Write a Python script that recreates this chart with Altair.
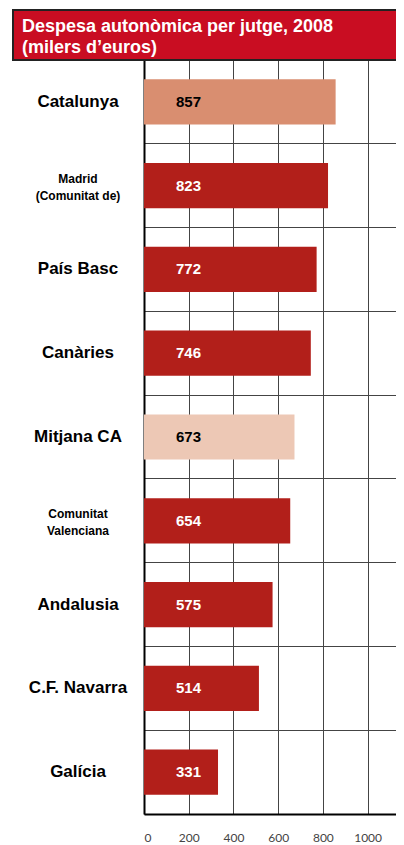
import altair as alt
import pandas as pd

categories = ["Catalunya", "Madrid (Comunitat de)", "País Basc", "Canàries", "Mitjana CA",
              "Comunitat Valenciana", "Andalusia", "C.F. Navarra", "Galícia"]
label_lines = ["Catalunya", "Madrid\n(Comunitat de)", "País Basc", "Canàries", "Mitjana CA",
               "Comunitat\nValenciana", "Andalusia", "C.F. Navarra", "Galícia"]
values = [857, 823, 772, 746, 673, 654, 575, 514, 331]
bar_kind = ["Catalunya", "altres", "altres", "altres", "mitjana", "altres", "altres", "altres", "altres"]
label_size = [17, 12, 17, 17, 17, 12, 17, 17, 17]
x_ticks = [0, 200, 400, 600, 800, 1000]
title_lines = ["Despesa autonòmica per jutge, 2008", "(milers d’euros)"]

kind_domain = ["Catalunya", "mitjana", "altres"]
kind_colors = ["#D98E70", "#EDC8B5", "#B21F1A"]
text_colors = ["#000000", "#000000", "#FFFFFF"]

df = pd.DataFrame({
    "cat": categories,
    "lab": label_lines,
    "val": values,
    "kind": bar_kind,
    "size": label_size,
})

W = 252
H = 754
XMAX = 1127

y_enc = alt.Y("cat:N", sort=categories,
              scale=alt.Scale(paddingInner=0, paddingOuter=0),
              axis=alt.Axis(labels=False, ticks=False, title=None, grid=True,
                            bandPosition=0, gridColor="#444444", gridWidth=1,
                            domainColor="#000000", domainWidth=2))
x_scale = alt.Scale(domain=[0, XMAX], nice=False, zero=True)

base = alt.Chart(df)

bars = base.mark_bar(height=alt.RelativeBandSize(0.54)).encode(
    x=alt.X("val:Q", scale=x_scale,
            axis=alt.Axis(values=x_ticks, format="d", grid=True, gridColor="#444444", gridWidth=1,
                          ticks=False, domainColor="#000000", domainWidth=2,
                          labelPadding=18, labelFontSize=12, labelColor="#444444",
                          labelFont="Lato", title=None)),
    y=y_enc,
    color=alt.Color("kind:N", scale=alt.Scale(domain=kind_domain, range=kind_colors), legend=None),
)

val_text = base.mark_text(align="left", baseline="middle", fontSize=15, fontWeight="bold",
                          font="Liberation Sans").encode(
    x=alt.value(32),
    y=alt.Y("cat:N", sort=categories),
    text=alt.Text("val:Q"),
    color=alt.Color("kind:N", scale=alt.Scale(domain=kind_domain, range=text_colors), legend=None),
)

cat_text_one = base.transform_filter("datum.size > 14").mark_text(
    align="center", baseline="middle", fontWeight="bold", font="Liberation Sans",
    color="#000000").encode(
    x=alt.value(-66),
    y=alt.Y("cat:N", sort=categories),
    text="lab:N",
    size=alt.Size("size:Q", scale=None, legend=None),
)

cat_text_two = base.transform_filter("datum.size <= 14").mark_text(
    align="center", baseline="middle", fontWeight="bold", font="Liberation Sans",
    lineBreak="\n", lineHeight=17, dy=-7, color="#000000").encode(
    x=alt.value(-66),
    y=alt.Y("cat:N", sort=categories),
    text="lab:N",
    size=alt.Size("size:Q", scale=None, legend=None),
)

title_df = pd.DataFrame({"t": ["\n".join(title_lines)]})
title_box = alt.Chart(title_df).mark_rect(color="#C90D22", stroke="#222222", strokeWidth=2).encode(
    x=alt.value(-131), x2=alt.value(W + 10), y=alt.value(-50), y2=alt.value(0)
)
title_text = alt.Chart(title_df).mark_text(align="left", baseline="alphabetic", fontSize=18,
                                           fontWeight="bold", font="Liberation Sans",
                                           color="#FFFFFF", lineBreak="\n", lineHeight=21).encode(
    x=alt.value(-122), y=alt.value(-28), text="t:N"
)

chart = alt.layer(bars, val_text, cat_text_one, cat_text_two, title_box, title_text).resolve_scale(
    color="independent"
).properties(
    width=W, height=H,
    autosize=alt.AutoSizeParams(type="none"),
    padding={"left": 136, "top": 52, "right": 0, "bottom": 29},
).configure_view(stroke=None)

chart.save("out.html", embed_options={"renderer": "svg", "actions": False})
